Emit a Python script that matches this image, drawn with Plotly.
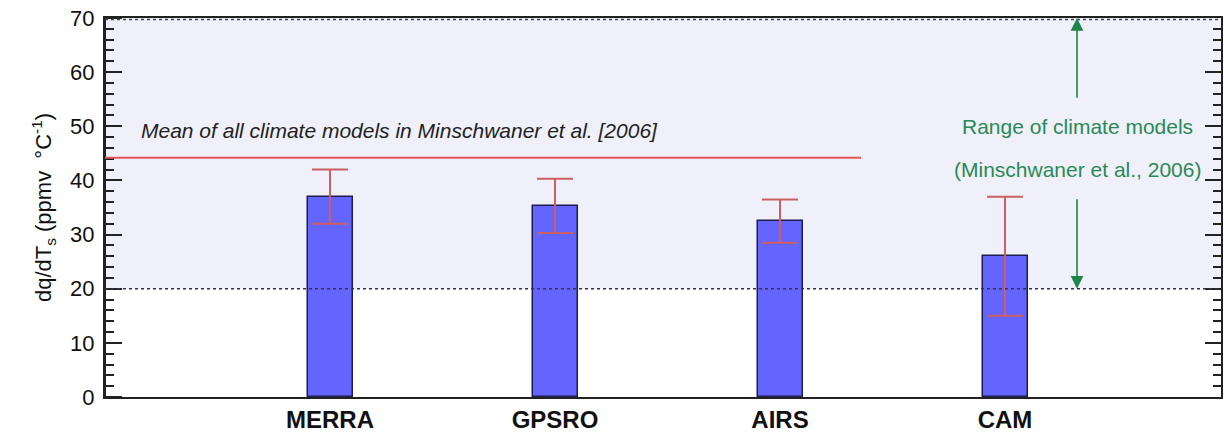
import plotly.graph_objects as go

categories = ["MERRA", "GPSRO", "AIRS", "CAM"]
positions = [1, 2, 3, 4]
values = [37.0, 35.3, 32.5, 26.0]
errors = [5.0, 5.0, 4.0, 11.0]

model_mean = 44.2
model_range_low = 20
model_range_high = 70
mean_line_end = 3.36
range_x = 4.32

fig = go.Figure()

fig.add_trace(go.Bar(
    x=positions, y=values, width=0.2,
    marker=dict(color="#6464ff", line=dict(color="#1c1c50", width=1.5)),
    error_y=dict(type="data", array=errors, color="#cc5f62", thickness=2, width=18),
    showlegend=False,
))
# empty traces holding the right and left tick-mark axes
fig.add_trace(go.Scatter(x=[], y=[], yaxis="y2", showlegend=False, hoverinfo="skip"))
fig.add_trace(go.Scatter(x=[], y=[], yaxis="y3", showlegend=False, hoverinfo="skip"))

fig.add_shape(type="rect", xref="paper", x0=0, x1=1, yref="y",
              y0=model_range_low, y1=model_range_high,
              fillcolor="#f0f0fb", line=dict(width=0), layer="below")
fig.add_shape(type="line", xref="paper", x0=0, x1=1, yref="y",
              y0=model_range_low, y1=model_range_low,
              line=dict(color="#333344", width=1.6, dash="dot"), layer="above")
fig.add_shape(type="line", xref="paper", x0=0, x1=1, yref="y",
              y0=model_range_high - 0.3, y1=model_range_high - 0.3,
              line=dict(color="#444444", width=1.5, dash="dot"), layer="above")
fig.add_shape(type="line", xref="x", x0=0, x1=mean_line_end, yref="y",
              y0=model_mean, y1=model_mean,
              line=dict(color="#e05555", width=2), layer="above")

fig.add_annotation(x=0.15, y=49.3, xref="x", yref="y", xanchor="left",
                   text="<i>Mean of all climate models in Minschwaner et al. [2006]</i>",
                   showarrow=False, font=dict(size=21, color="#222222"))

green = "#1e8548"
fig.add_annotation(x=range_x, y=model_range_high, ax=range_x, ay=55,
                   xref="x", yref="y", axref="x", ayref="y", text="",
                   showarrow=True, arrowhead=2, arrowsize=1.6, arrowwidth=1.6,
                   arrowcolor=green)
fig.add_annotation(x=range_x, y=model_range_low, ax=range_x, ay=36.8,
                   xref="x", yref="y", axref="x", ayref="y", text="",
                   showarrow=True, arrowhead=2, arrowsize=1.6, arrowwidth=1.6,
                   arrowcolor=green)
fig.add_annotation(x=range_x, y=49.9, xref="x", yref="y", text="Range of climate models",
                   showarrow=False, font=dict(size=21, color="#2a8a55"))
fig.add_annotation(x=range_x, y=42.1, xref="x", yref="y", text="(Minschwaner et al., 2006)",
                   showarrow=False, font=dict(size=21, color="#2a8a55"))

tick_axis = dict(range=[0, 70], dtick=10, tick0=0, overlaying="y",
                 ticklen=16, tickwidth=2, tickcolor="#222222",
                 showgrid=False, zeroline=False, showticklabels=False,
                 showline=True, linecolor="#222222", linewidth=2)

fig.update_layout(
    width=1224, height=436,
    margin=dict(l=105, r=3, t=18, b=39),
    paper_bgcolor="white", plot_bgcolor="white",
    font=dict(family="Liberation Sans, Arial, sans-serif", color="#111111"),
    xaxis=dict(range=[0, 4.96], tickvals=positions, ticktext=categories,
               tickfont=dict(size=24, weight="bold", color="#111111"),
               showgrid=False, zeroline=False, ticks="",
               showline=True, linecolor="#222222", linewidth=2, mirror=True),
    yaxis=dict(range=[0, 70], dtick=10, tick0=0, ticks="",
               showgrid=False, zeroline=False,
               showline=True, linecolor="#222222", linewidth=2,
               tickfont=dict(size=22, color="#111111"), ticklabelstandoff=4,
               title=dict(text="dq/dT<sub>s</sub> (ppmv  °C<sup>-1</sup>)",
                          font=dict(size=22, color="#111111"), standoff=12)),
    # right frame: ticks pointing into the plot
    yaxis2=dict(**tick_axis, side="right", ticks="inside",
                minor=dict(ticks="inside", ticklen=8, dtick=2, tickwidth=1.5,
                           tickcolor="#222222")),
    # left frame: a right-sided axis placed at the left edge, so its
    # "outside" ticks point into the plot
    yaxis3=dict(**tick_axis, side="right", anchor="free", position=0,
                ticks="outside",
                minor=dict(ticks="outside", ticklen=8, dtick=2, tickwidth=1.5,
                           tickcolor="#222222")),
    bargap=0,
)

fig.write_html("out.html")
